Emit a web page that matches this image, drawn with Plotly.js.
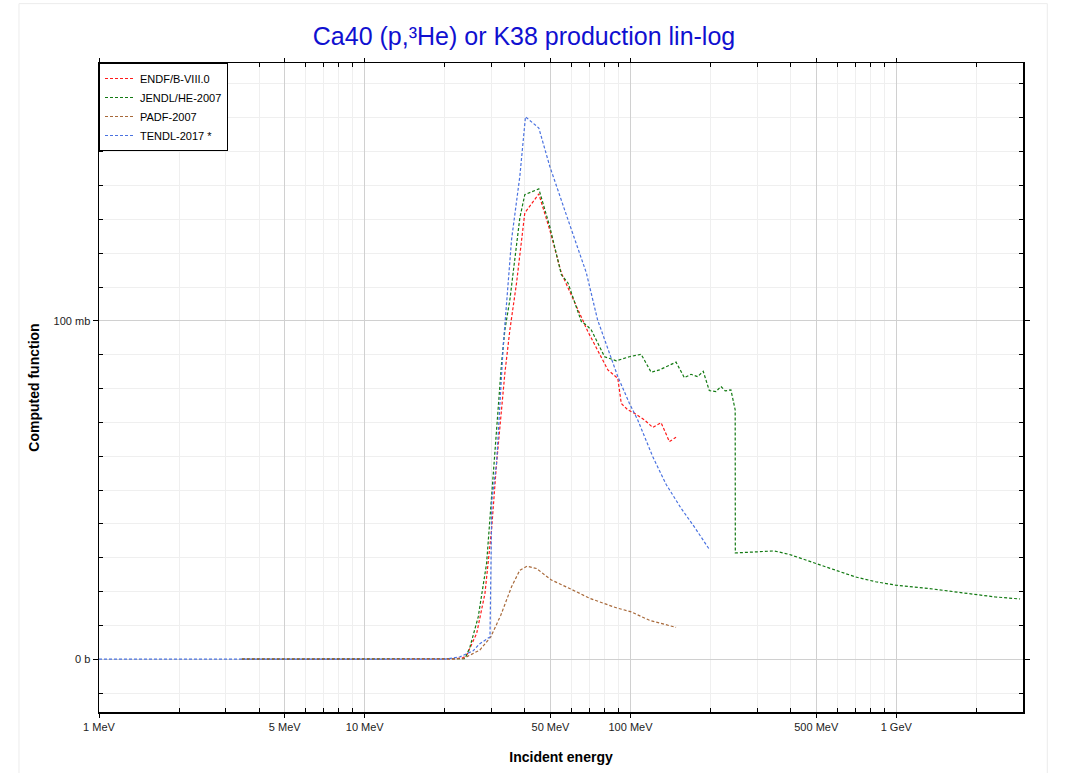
<!DOCTYPE html>
<html>
<head>
<meta charset="utf-8">
<script src="https://cdn.plot.ly/plotly-3.0.1.min.js"></script>
<style>html,body{margin:0;padding:0;background:#fff;}#chart{width:1071px;height:773px;}</style>
</head>
<body>
<div id="chart"></div>
<script>
// Energies in MeV, cross sections in mb
const endfE = [3.45, 20, 22, 23.5, 24.18, 26.37, 28.33, 30.0, 31.34, 33.67, 35.16, 37.26, 40.02, 45.18, 49.67, 54.95, 64.37, 69.16, 73.4, 82.2, 89.6, 92.3, 97.7, 103.5, 112.9, 121.2, 130.4, 140.1, 148.4];
const endfS = [0, 0, 0.1, 0.5, 1.2, 7.6, 19.4, 38.2, 57.9, 84.5, 97.3, 111.2, 131.9, 137.5, 126.9, 114.1, 102.3, 96.8, 92.9, 85.5, 83.0, 75.6, 73.7, 72.7, 70.7, 68.5, 69.9, 64.3, 65.6];

const jendlE = [3.45, 20, 22, 23.83, 24.88, 26.73, 28.74, 30.0, 31.34, 32.72, 33.67, 35.16, 38.33, 40.02, 45.18, 49.67, 54.95, 58.18, 65.31, 68.2, 71.21, 79.89, 88.38, 99.1, 109.7, 119.6, 128.5, 148.4, 159.5, 169.0, 178.9, 187.8, 197.9, 209.7, 218.9, 227.2, 238.7, 247.7, 248.0, 296.3, 347.0, 395.1, 497.6, 591.5, 703.1, 835.6, 993.1, 1324, 1766, 2356, 2924];
const jendlS = [0, 0, 0.1, 0.2, 3.6, 12.5, 28.3, 48.0, 67.8, 87.5, 97.3, 106.2, 130.4, 137.3, 139.0, 127.9, 113.6, 111.2, 99.8, 98.8, 97.3, 89.4, 88.2, 89.4, 90.1, 84.8, 85.5, 87.8, 83.2, 84.2, 83.5, 85.1, 79.4, 79.1, 80.6, 79.3, 79.6, 73.7, 31.4, 31.7, 32.0, 31.0, 28.3, 26.1, 24.3, 22.9, 21.9, 20.9, 19.6, 18.4, 17.8];

const padfE = [3.45, 20, 23.48, 27.1, 29.8, 32.5, 35.68, 38.33, 40.82, 44.29, 50.4, 59.04, 70.18, 88.38, 100.6, 117.8, 148.4];
const padfS = [0, 0, 0.2, 2.7, 6.6, 13.0, 21.4, 26.3, 27.5, 26.8, 23.4, 20.9, 18.0, 15.2, 14.0, 11.5, 9.4];

const tendlE = [1, 20, 22.82, 25.6, 27.0, 29.6, 30.08, 31.34, 33.18, 35.68, 38.33, 40.26, 45.18, 49.67, 58.18, 68.2, 75.19, 81.99, 89.6, 99.1, 106.5, 121.2, 136.1, 155.0, 173.9, 197.9];
const tendlS = [0, 0, 0.7, 2.5, 4.5, 6.6, 47.0, 57.9, 92.4, 124.0, 142.7, 160.3, 157.0, 145.7, 129.9, 114.2, 100.3, 91.9, 83.5, 75.6, 70.7, 59.9, 51.7, 44.6, 39.1, 32.5];

const seriesNames = ['ENDF/B-VIII.0', 'JENDL/HE-2007', 'PADF-2007', 'TENDL-2017 *'];
const xTickVals = [1, 5, 10, 50, 100, 500, 1000];
const xTickText = ['1 MeV', '5 MeV', '10 MeV', '50 MeV', '100 MeV', '500 MeV', '1 GeV'];
const yTickVals = [0, 100];
const yTickText = ['0 b', '100 mb'];

const xMinor = [];
[1, 10, 100, 1000].forEach(d => [2,3,4,6,7,8,9].forEach(k => xMinor.push(k*d)));
const yMinor = [];
for (let v = -10; v <= 170; v += 10) if (v !== 0 && v !== 100) yMinor.push(v);

function tr(x, y, name, color) {
  return {x: x, y: y, name: name, type: 'scatter', mode: 'lines',
    line: {color: color, width: 1.2, dash: '3px,2px'}};
}
const data = [
  tr(endfE, endfS, seriesNames[0], '#ff1a1a'),
  tr(jendlE, jendlS, seriesNames[1], '#137a13'),
  tr(padfE, padfS, seriesNames[2], '#a8693a'),
  tr(tendlE, tendlS, seriesNames[3], '#4a72e0')
];

const font = 'Liberation Sans, Arial, sans-serif';
const layout = {
  width: 1071, height: 773,
  margin: {l: 99, r: 48, t: 63, b: 61, pad: 0},
  paper_bgcolor: '#fff', plot_bgcolor: '#fff',
  font: {family: font, size: 11, color: '#222'},
  title: {text: 'Ca40 (p,³He) or K38 production lin-log', font: {family: font, size: 25, color: '#1010d0'},
    x: 524/1071, xref: 'container', xanchor: 'center', y: 1 - 36/773, yanchor: 'middle', yref: 'container'},
  showlegend: true,
  legend: {x: 0, y: 1, xanchor: 'left', yanchor: 'top', bgcolor: '#fff', bordercolor: '#000', borderwidth: 1,
    font: {family: font, size: 11, color: '#000'}, tracegroupgap: 0, itemwidth: 30},
  xaxis: {type: 'log', range: [0, 3.477], tickmode: 'array', tickvals: xTickVals, ticktext: xTickText,
    showgrid: true, gridcolor: '#d0d0d0', gridwidth: 1, zeroline: false,
    showline: true, linecolor: '#000', linewidth: 1.5, mirror: 'allticks',
    ticks: 'outside', ticklen: 4, tickcolor: '#000',
    minor: {tickmode: 'array', tickvals: xMinor, ticks: 'inside', ticklen: 4, tickcolor: '#000', showgrid: true, gridcolor: '#efefef'},
    title: {text: 'Incident energy', font: {family: font, size: 14, color: '#000', weight: 'bold'}, standoff: 20},
    tickfont: {family: font, size: 11, color: '#222'}},
  yaxis: {type: 'linear', range: [-15.6, 176.2], tickmode: 'array', tickvals: yTickVals, ticktext: yTickText,
    showgrid: true, gridcolor: '#d0d0d0', gridwidth: 1, zeroline: false,
    showline: true, linecolor: '#000', linewidth: 1.5, mirror: 'allticks',
    ticks: 'outside', ticklen: 5, tickcolor: '#000',
    minor: {tickmode: 'array', tickvals: yMinor, ticks: 'inside', ticklen: 4, tickcolor: '#000', showgrid: true, gridcolor: '#efefef'},
    title: {text: 'Computed function', font: {family: font, size: 14, color: '#000', weight: 'bold'}, standoff: 10},
    tickfont: {family: font, size: 11, color: '#222'}},
  shapes: [{type: 'rect', xref: 'paper', yref: 'paper', x0: -0.0866, x1: 1.0263, y0: -0.12, y1: 1.0915,
    line: {color: '#ececec', width: 1}, fillcolor: 'rgba(0,0,0,0)', layer: 'below'}]
};
Plotly.newPlot('chart', data, layout, {displayModeBar: false, staticPlot: true});
</script>
</body>
</html>
